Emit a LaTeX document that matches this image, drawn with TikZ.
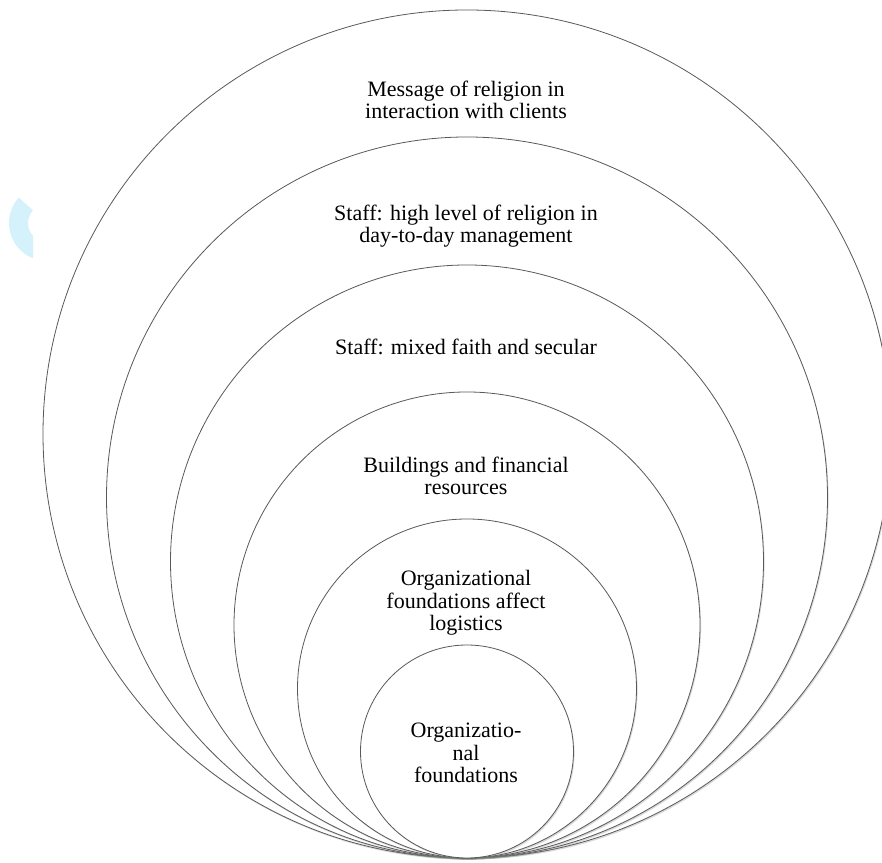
\documentclass[tikz,border=0pt]{standalone}
\usepackage{fontspec}
\setmainfont{Liberation Serif}
\usetikzlibrary{shadows,positioning,calc}
\tikzset{font=\fontsize{16.5}{16.8}\selectfont}
\tikzset{ring/.style={draw=black!65,line width=0.6pt,fill=white,
  drop shadow={opacity=0.3,shadow xshift=0.8pt,shadow yshift=-1.2pt}}}
\tikzset{label/.style={align=center,inner sep=0pt}}

\begin{document}
\begin{tikzpicture}[x=0.75pt,y=0.75pt]
  \clip (0,0) rectangle (882,863);
  % light mark on the left
  \begin{scope}
    \clip (0,590) rectangle (33,680);
    \fill[cyan!17] (47,640) ++(138:38) arc (138:260:38)
      -- ($(47,640)+(260:19)$) arc (260:138:19) -- cycle;
  \end{scope}
  % nested circles, all touching at the bottom
  \foreach \r/\n in {424/c1, 360.5/c2, 296.5/c3, 233/c4, 169.5/c5, 106.5/c6}{
    \node[ring,circle,minimum size=2*\r*0.75pt,inner sep=0pt] (\n) at (467,5+\r) {};
  };
  \node[label] (msg) at (466,763) {Message of religion in\\interaction with clients};
  \node[label] (high) at (466,637) {Staff: high level of religion in\\day-to-day management};
  \node[label] (mixed) at (466,516) {Staff: mixed faith and secular};
  \node[label] (build) at (466,387) {Buildings and financial\\resources};
  \node[label] (logi) at (466,260) {Organizational\\foundations affect\\logistics};
  \node[label] (found) at (466,110) {Organizatio-\\nal\\foundations};
\end{tikzpicture}
\end{document}
